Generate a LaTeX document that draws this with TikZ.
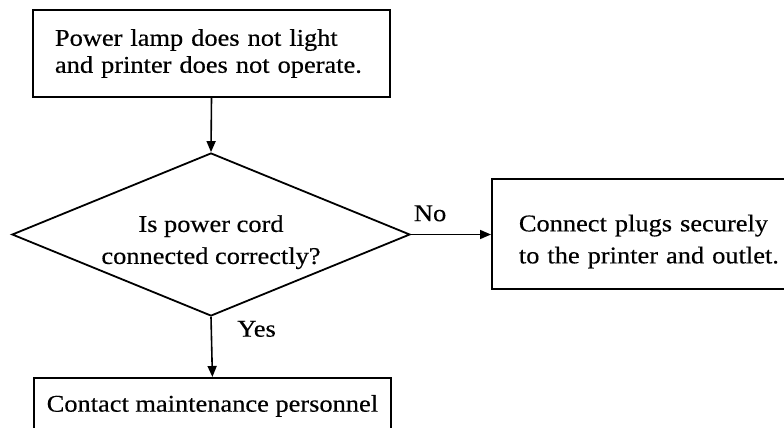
\documentclass[tikz,border=0pt]{standalone}
\usepackage{fontspec}
\setmainfont{Liberation Serif}[FakeStretch=1.1,FakeBold=0.4]
\usetikzlibrary{shapes.geometric,arrows.meta}
\begin{document}
\begin{tikzpicture}[x=1pt,y=-1pt,
  box/.style={draw,line width=1.8pt,rectangle,inner ysep=0pt,align=left},
  decision/.style={draw,line width=1.8pt,diamond,inner sep=0pt,align=center,
    minimum width=398pt,minimum height=163pt,shape aspect=2.44},
  conn/.style={line width=1.6pt,-{Triangle[length=11pt,width=9pt]}},
  lbl/.style={font=\fontsize{24}{28}\selectfont}]
\clip (0,0) rectangle (784,428);
\fill[white] (0,0) rectangle (784,428);
\node[box,inner xsep=22pt,text width=313pt,minimum height=87pt,
  font=\fontsize{24}{27}\selectfont] (top) at (211.5,53.5)
  {\mbox{Power lamp does not light}\\\mbox{and printer does not operate.}};
\node[decision,font=\fontsize{24}{32}\selectfont] (q) at (211,234.5)
  {\rule{0pt}{32pt}Is power cord\\connected correctly?};
\node[box,anchor=north west,inner xsep=27pt,text width=270pt,minimum height=110pt,
  font=\fontsize{24}{32}\selectfont] (fix) at (491,178)
  {\mbox{\rule{0pt}{32pt}Connect plugs securely}\\\mbox{to the printer and outlet.}};
\node[box,anchor=north west,align=center,minimum width=357pt,minimum height=56pt,
  font=\fontsize{24}{28}\selectfont] (call) at (33,377)
  {Contact maintenance personnel};
\draw[conn] (top.south) -- (q.north);
\draw[conn] (q.east) -- node[lbl,above,pos=0.24,yshift=9pt] (no) {No} (fix.west |- q.east);
\draw[conn] (q.south) -- node[lbl,right,pos=0.2,xshift=22pt] (yes) {Yes} (call.north);
\end{tikzpicture}
\end{document}
